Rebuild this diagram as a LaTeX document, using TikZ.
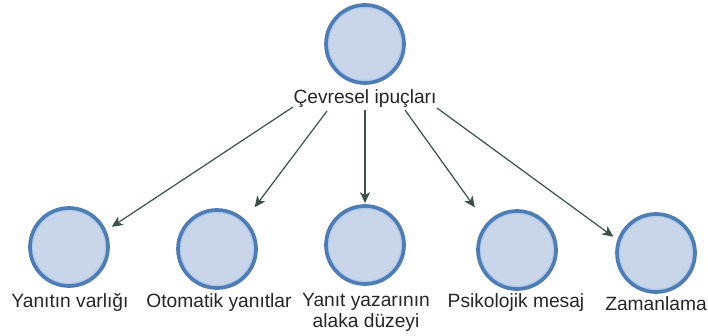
\documentclass[tikz,border=0pt]{standalone}
\usepackage{fontspec}
\setmainfont{Liberation Sans}
\usetikzlibrary{arrows.meta}
\definecolor{bubblefill}{HTML}{C9D5E8}
\definecolor{bubbleedge}{HTML}{4E7DB5}
\definecolor{bubbleshine}{HTML}{AECBEE}
\definecolor{linkcol}{HTML}{3B5048}
\tikzset{
  bubble/.style={circle, draw=bubbleedge, fill=bubblefill, line width=3.7pt,
    minimum size=78pt, inner sep=0pt,
    path picture={\draw[bubbleshine, line width=1.3pt]
      (path picture bounding box.center) circle (36.5pt);}},
  caption/.style={anchor=base, align=center, inner sep=0pt,
    font=\fontsize{19.2}{21}\selectfont, text=black!85},
  link/.style={draw=linkcol, line width=1.2pt,
    -{Stealth[length=11pt, width=10pt, inset=3pt]}}
}
\begin{document}
\begin{tikzpicture}[x=1pt, y=-1pt]
  \useasboundingbox (0,0) rectangle (708,335);

  % root bubble and its caption
  \node[bubble] (c0) at (365,44) {};
  \node[caption] (top) at (365,103) {Çevresel ipuçları};

  % child bubbles
  \node[bubble] (c1) at (69,247)  {};
  \node[bubble] (c2) at (217,249) {};
  \node[bubble] (c3) at (365,245) {};
  \node[bubble] (c4) at (517,250) {};
  \node[bubble] (c5) at (656,253) {};

  % child captions (the two-line one is placed by its last baseline)
  \node[caption] (l1) at (70,307)  {Yanıtın varlığı};
  \node[caption] (l2) at (219,307) {Otomatik yanıtlar};
  \node[caption] (l3) at (366,327) {Yanıt yazarının\\alaka düzeyi};
  \node[caption] (l4) at (516,307) {Psikolojik mesaj};
  \node[caption] (l5) at (656,310) {Zamanlama};

  % arrow roots along the lower edge of the root caption
  \coordinate (s1) at (293,107);
  \coordinate (s2) at (327,111);
  \coordinate (s3) at (365,110);
  \coordinate (s4) at (405,110);
  \coordinate (s5) at (437,108);

  % arrows to the children
  \draw[link, shorten >=6.5pt]  (s1) -- (c1.24);
  \draw[link, shorten >=15.5pt] (s2) -- (c2.46);
  \draw[link, shorten >=1pt]    (s3) -- (c3.north);
  \draw[link, shorten >=19.5pt] (s4) -- (c4.139);
  \draw[link, shorten >=5pt]    (s5) -- (c5.161);
\end{tikzpicture}
\end{document}
